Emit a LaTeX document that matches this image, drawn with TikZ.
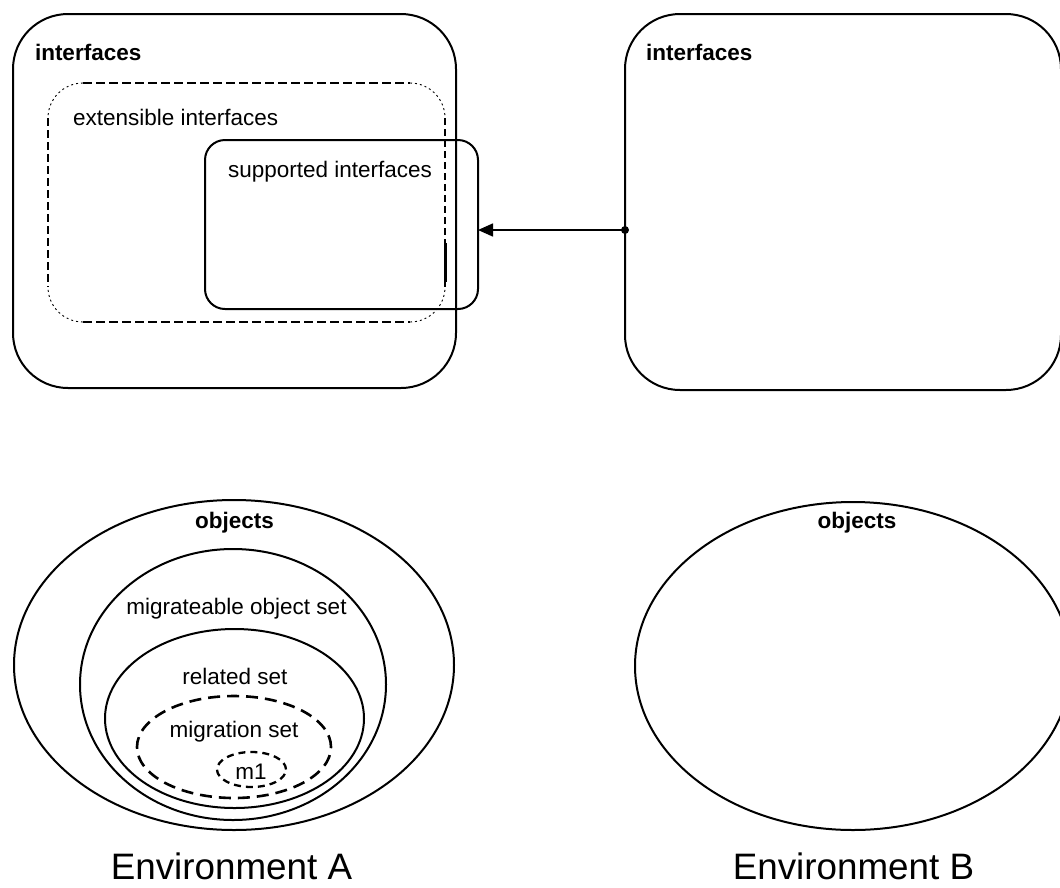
\documentclass[tikz,border=0pt]{standalone}
\usepackage{fontspec}
\setmainfont{Liberation Sans}
\usetikzlibrary{shapes.geometric,arrows.meta}
\begin{document}
\begin{tikzpicture}[x=1pt,y=-1pt,
  every node/.style={inner sep=0pt, outer sep=0pt},
  lbl/.style={font=\fontsize{22.5}{26}\selectfont},
  blbl/.style={font=\fontsize{22.5}{26}\selectfont\bfseries},
  envlbl/.style={font=\fontsize{36.8}{44}\selectfont},
  ifbox/.style={draw, rectangle, line width=2pt, rounded corners=55pt},
  suppbox/.style={draw, rectangle, line width=2pt, rounded corners=20pt},
  setell/.style={draw, ellipse, line width=2pt},
  migell/.style={draw, ellipse, line width=2.6pt, dash pattern=on 12pt off 7pt},
  objell/.style={draw, ellipse, line width=2.3pt, dash pattern=on 7pt off 5pt},
  exthick/.style={line width=2.6pt, dash pattern=on 9pt off 4pt},
  exmid/.style={line width=1.6pt, dash pattern=on 8pt off 4pt},
  exthin/.style={line width=1.1pt, dash pattern=on 7pt off 4pt},
  excorner/.style={line width=0.9pt, dash pattern=on 2pt off 3pt},
  link/.style={line width=1.6pt, -{Triangle[length=15pt,width=13pt]}}
]
\useasboundingbox (0,0) rectangle (1060,887);

% interface spaces of both environments
\node[ifbox, minimum width=443pt, minimum height=374pt] (ifA) at (234.5,201) {};
\node[ifbox, minimum width=436pt, minimum height=376pt] (ifB) at (843,202) {};
\node[blbl, anchor=west] (ifAlbl) at (35,52) {interfaces};
\node[blbl, anchor=west] (ifBlbl) at (646,52) {interfaces};

% extensible interfaces: dashed rounded box drawn edge by edge
% (the y axis points down, so arc angles are mirrored)
\draw[exthick] (83,83) -- (410,83);
\draw[exthick] (83,322) -- (410,322);
\draw[exmid] (48,118) -- (48,287);
\draw[exthin] (445,118) -- (445,243);
\draw[line width=3pt] (445,243) -- (445,282);
\draw[exthin] (445,282) -- (445,287);
\draw[excorner] (83,83) arc[start angle=270, end angle=180, radius=35];
\draw[excorner] (410,83) arc[start angle=270, end angle=360, radius=35];
\draw[excorner] (83,322) arc[start angle=90, end angle=180, radius=35];
\draw[excorner] (410,322) arc[start angle=90, end angle=0, radius=35];
\node[lbl, anchor=west] (extlbl) at (73,117) {extensible interfaces};

% supported interfaces
\node[suppbox, minimum width=273pt, minimum height=169pt] (supp) at (341.5,224.5) {};
\node[lbl, anchor=west] (supplbl) at (228,172) {supported interfaces};

% link from environment B's interfaces to the supported interfaces
\coordinate (src) at (ifB.west |- 0,230);
\draw[link] (src) -- (supp.east |- src);
\fill (src) circle (4pt);

% object sets of environment A
\node[setell, minimum width=440pt, minimum height=330pt] (objA) at (234,665) {};
\node[setell, minimum width=306pt, minimum height=271pt] (migr) at (233,684.5) {};
\node[setell, minimum width=259pt, minimum height=179pt] (rel) at (234.5,718.5) {};
\node[migell, minimum width=194pt, minimum height=102pt] (mset) at (234,747) {};
\node[objell, minimum width=69pt, minimum height=35pt] (m1) at (251.5,769.5) {};
\node[blbl] (objAlbl) at (234.5,523) {objects};
\node[lbl] (migrlbl) at (236.5,609) {migrateable object set};
\node[lbl] (rellbl) at (235,676) {related set};
\node[lbl] (msetlbl) at (234,732) {migration set};
\node[lbl] (m1lbl) at (251,772) {m1};

% object set of environment B
\node[setell, minimum width=436pt, minimum height=328pt] (objB) at (853,666) {};
\node[blbl] (objBlbl) at (857,523) {objects};

% environment captions
\node[envlbl, anchor=base] (envA) at (231.5,879) {Environment A};
\node[envlbl, anchor=base] (envB) at (853.5,879) {Environment B};
\end{tikzpicture}
\end{document}
